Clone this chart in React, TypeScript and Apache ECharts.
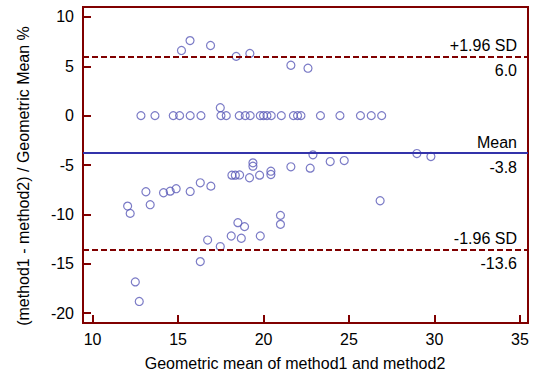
import React, { useEffect, useRef } from "react";
import * as echarts from "echarts";

// Geometric mean of method1 and method2 (x) and percentage difference (y)
const meanValues: number[] = [
  15.2, 15.7, 16.9, 18.4, 19.2, 21.6, 22.6,
  12.83, 13.65, 14.72, 15.09, 15.71, 16.34, 17.51, 17.82, 18.58, 18.93, 19.22, 19.81,
  20.0, 20.2, 20.45, 21.04, 21.75, 21.99, 22.19, 23.33, 24.47, 25.67, 26.3, 26.91,
  17.47,
  18.15, 18.35, 18.6, 19.18, 19.38, 19.38, 19.77, 20.43, 20.43, 21.6, 22.73, 22.89,
  23.9, 24.72, 26.82, 28.97, 29.79,
  12.05, 12.2, 13.12, 13.37, 14.15, 14.54, 14.89, 15.71, 16.3, 16.92,
  16.73, 17.47, 18.11, 18.5, 18.89, 18.7, 19.81, 20.99, 20.99, 16.3, 12.5, 12.73,
];
const diffPercent: number[] = [
  6.6, 7.6, 7.1, 6.0, 6.3, 5.1, 4.8,
  0, 0, 0, 0, 0, 0, 0, 0, 0, 0, 0, 0,
  0, 0, 0, 0, 0, 0, 0, 0, 0, 0, 0, 0,
  0.8,
  -6.03, -6.03, -6.01, -6.29, -4.78, -5.12, -6.03, -5.63, -5.96, -5.18, -5.32, -3.97,
  -4.65, -4.55, -8.62, -3.84, -4.14,
  -9.16, -9.9, -7.71, -9.02, -7.81, -7.65, -7.4, -7.68, -6.8, -7.14,
  -12.6, -13.26, -12.19, -10.84, -11.24, -12.42, -12.19, -10.1, -11.01, -14.78, -16.84, -18.82,
];

const xTicks: number[] = [10, 15, 20, 25, 30, 35];
const yTicks: number[] = [-20, -15, -10, -5, 0, 5, 10];

const upperLimit = 6.0;
const meanDiff = -3.8;
const lowerLimit = -13.6;

const xTitle = "Geometric mean of method1 and method2";
const yTitle = "(method1 - method2) / Geometric Mean %";

const FONT = "'Liberation Sans', Arial, sans-serif";
const MAROON = "#800000";

export default function App() {
  const ref = useRef<HTMLDivElement>(null);
  useEffect(() => {
    if (!ref.current) return;
    const chart = echarts.init(ref.current, undefined, { renderer: "svg" });
    const points = meanValues.map((x, i) => [x, diffPercent[i]]);
    const dashed = { color: MAROON, width: 2, type: [6, 3] as any };
    const solid = { color: "#3333aa", width: 2, type: "solid" as any };
    const lbl = (text: string, pos: string, dy: number) => ({
      show: true,
      formatter: text,
      position: pos,
      distance: [11, dy],
      color: "#000",
      fontSize: 16,
      fontFamily: FONT,
    });
    chart.setOption({
      animation: false,
      backgroundColor: "#fff",
      grid: {
        left: 83,
        right: 9,
        top: 7,
        bottom: 52,
        show: true,
        borderColor: MAROON,
        borderWidth: 2,
        backgroundColor: "transparent",
      },
      xAxis: {
        type: "value",
        min: 9.44,
        max: 35.47,
        axisLine: { show: true, onZero: false, lineStyle: { color: MAROON, width: 2 } },
        axisTick: { show: true, inside: true, length: 8, lineStyle: { color: MAROON, width: 2 }, customValues: xTicks },
        axisLabel: { color: "#000", fontSize: 16, fontFamily: FONT, margin: 8, customValues: xTicks },
        splitLine: { show: false },
      },
      yAxis: {
        type: "value",
        min: -21,
        max: 11,
        axisLine: { show: true, onZero: false, lineStyle: { color: MAROON, width: 2 } },
        axisTick: { show: true, inside: true, length: 8, lineStyle: { color: MAROON, width: 2 }, customValues: yTicks },
        axisLabel: { color: "#000", fontSize: 16, fontFamily: FONT, margin: 9, customValues: yTicks },
        splitLine: { show: false },
      },
      graphic: [
        {
          type: "text",
          x: 295,
          y: 363,
          style: { text: xTitle, fill: "#000", font: `16px ${FONT}`, align: "center", verticalAlign: "middle" },
        },
        {
          type: "text",
          x: 23,
          y: 176,
          rotation: Math.PI / 2,
          style: { text: yTitle, fill: "#000", font: `16px ${FONT}`, align: "center", verticalAlign: "middle" },
        },
      ],
      series: [
        {
          type: "scatter",
          data: points,
          symbol: "circle",
          symbolSize: 8,
          itemStyle: { color: "rgba(255,255,255,0)", borderColor: "#5a5ab8", borderWidth: 1.2 },
          markLine: {
            silent: true,
            symbol: "none",
            data: [
              { yAxis: upperLimit, lineStyle: dashed, label: lbl("+1.96 SD", "insideEndTop", 3) },
              { yAxis: upperLimit, lineStyle: dashed, label: lbl(upperLimit.toFixed(1), "insideEndBottom", 6) },
              { yAxis: meanDiff, lineStyle: solid, label: lbl("Mean", "insideEndTop", 3) },
              { yAxis: meanDiff, lineStyle: solid, label: lbl(meanDiff.toFixed(1), "insideEndBottom", 6) },
              { yAxis: lowerLimit, lineStyle: dashed, label: lbl("-1.96 SD", "insideEndTop", 3) },
              { yAxis: lowerLimit, lineStyle: dashed, label: lbl(lowerLimit.toFixed(1), "insideEndBottom", 6) },
            ],
          },
          z: 3,
        },
      ],
    });
    return () => chart.dispose();
  }, []);
  return (
    <div
      ref={ref}
      style={{ position: "fixed", left: 0, top: 0, width: 537, height: 375, background: "#fff" }}
    />
  );
}
